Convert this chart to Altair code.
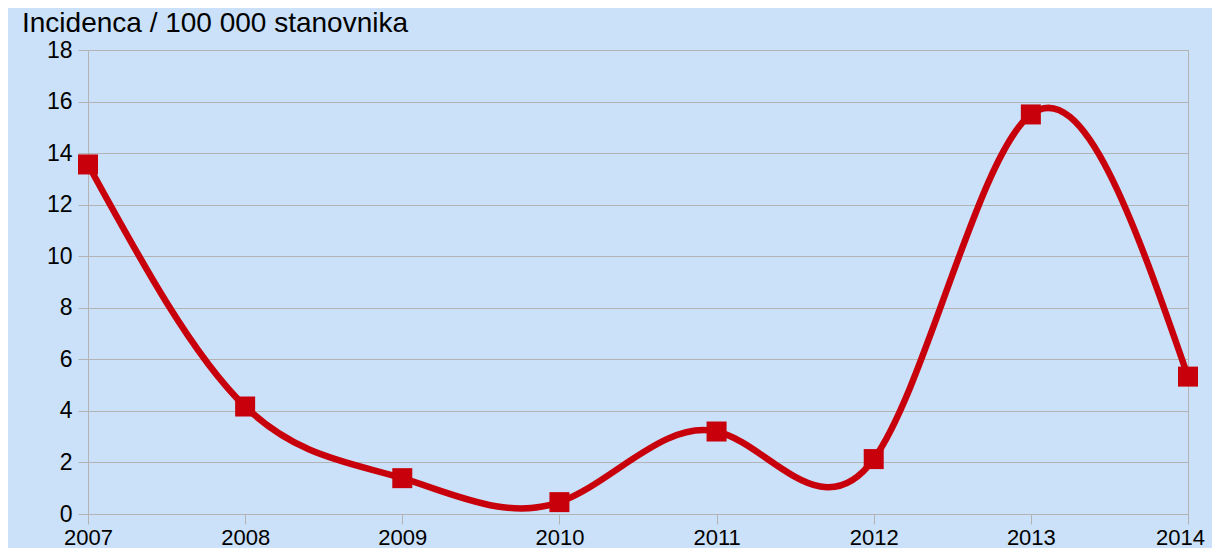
import altair as alt
import pandas as pd

years = [2007, 2008, 2009, 2010, 2011, 2012, 2013, 2014]
values = [13.56, 4.17, 1.39, 0.46, 3.2, 2.13, 15.5, 5.33]
y_ticks = [0, 2, 4, 6, 8, 10, 12, 14, 16, 18]
title_text = "Incidenca / 100 000 stanovnika"

df = pd.DataFrame({"year": years, "value": values})

RED = "#c8000b"
GRID = "#b3b3b3"
FONT = "Liberation Sans"

x_enc = alt.X(
    "year:Q",
    scale=alt.Scale(domain=[2007, 2014], nice=False, zero=False),
    axis=alt.Axis(
        values=years, format="d", title=None, grid=False, domain=False,
        tickSize=10, tickColor=GRID, labelFontSize=22, labelColor="black",
        labelFont=FONT, labelPadding=3, labelFlush=False, labelOverlap=False,
        labelOffset={"expr": "datum.value == 2014 ? -8 : 0"},
    ),
)
y_enc = alt.Y(
    "value:Q",
    scale=alt.Scale(domain=[0, 18], nice=False),
    axis=alt.Axis(
        values=y_ticks, title=None, grid=True, gridColor=GRID, domain=False,
        tickSize=10, tickColor=GRID, labelFontSize=23, labelColor="black",
        labelFont=FONT, labelPadding=6,
    ),
)

base = alt.Chart(df)

line = base.mark_line(
    color=RED, strokeWidth=6.5, interpolate="natural"
).encode(x=x_enc, y=y_enc)

points = base.mark_square(
    color=RED, size=400, opacity=1, filled=True
).encode(x="year:Q", y="value:Q")

title_df = pd.DataFrame({"t": [title_text]})
title = alt.Chart(title_df).mark_text(
    align="left", baseline="top", fontSize=28, font=FONT, color="black"
).encode(text="t:N", x=alt.value(-66), y=alt.value(-40))

chart = alt.layer(line, points, title).properties(
    width=1100,
    height=464,
    autosize=alt.AutoSizeParams(type="none"),
    padding={"left": 80, "top": 42, "right": 24, "bottom": 34},
    background="#cae1f9",
).configure_view(
    stroke=GRID, strokeWidth=1, fill=None
)

chart.save("out.html", embed_options={"renderer": "svg", "actions": False})
